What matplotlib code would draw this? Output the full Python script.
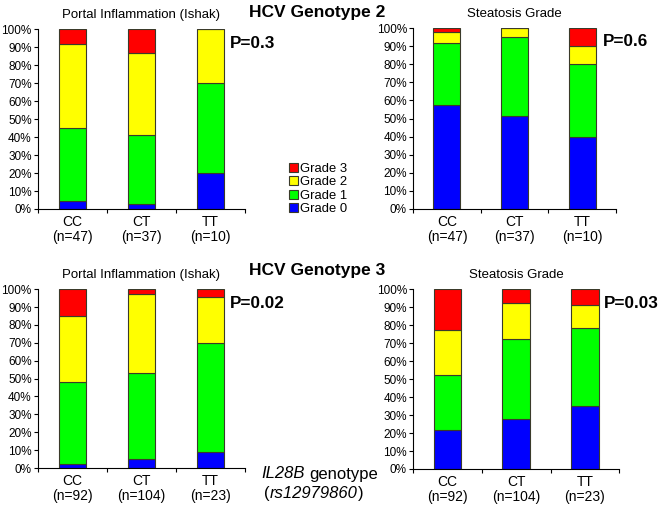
import numpy as np
import matplotlib
matplotlib.use('Agg')
import matplotlib.pyplot as plt
from matplotlib.patches import Patch

plt.rcParams['font.family'] = ['Liberation Sans', 'DejaVu Sans']

# Genotypes and sample sizes
genotypes = ['CC', 'CT', 'TT']
n_g2 = [47, 37, 10]
n_g3 = [92, 104, 23]

grades = ['Grade 0', 'Grade 1', 'Grade 2', 'Grade 3']
grade_colors = ['#0000ff', '#00ff00', '#ffff00', '#ff0000']

# Percentages per grade (rows: Grade 0..3, cols: CC, CT, TT)
portal_g2 = [[4.5, 3.0, 20.0],
             [40.5, 38.0, 50.0],
             [46.5, 45.5, 30.0],
             [8.5, 13.5, 0.0]]
steatosis_g2 = [[57.5, 51.5, 40.0],
                [34.0, 43.5, 40.0],
                [6.3, 5.0, 10.0],
                [2.2, 0.0, 10.0]]
portal_g3 = [[2.3, 4.8, 8.8],
             [45.6, 48.2, 60.9],
             [37.0, 44.2, 26.1],
             [15.1, 2.8, 4.2]]
steatosis_g3 = [[21.8, 28.0, 35.0],
                [30.4, 44.2, 43.3],
                [24.9, 20.2, 12.9],
                [22.9, 7.6, 8.8]]

p_values = ['P=0.3', 'P=0.6', 'P=0.02', 'P=0.03']

W, H = 661, 511
fig = plt.figure(figsize=(W / 100, H / 100), dpi=100)

panels = [
    ([0.0575, 0.591, 0.313, 0.352], portal_g2, n_g2, 'Portal Inflammation (Ishak)'),
    ([0.625, 0.591, 0.307, 0.354], steatosis_g2, n_g2, 'Steatosis Grade'),
    ([0.0575, 0.0841, 0.313, 0.350], portal_g3, n_g3, 'Portal Inflammation (Ishak)'),
    ([0.625, 0.0822, 0.312, 0.352], steatosis_g3, n_g3, 'Steatosis Grade'),
]

x = np.arange(len(genotypes))
for rect, data, ns, title in panels:
    ax = fig.add_axes(rect)
    bottom = np.zeros(len(genotypes))
    for vals, col in zip(data, grade_colors):
        vals = np.array(vals)
        ax.bar(x, vals, width=0.4, bottom=bottom, color=col,
               edgecolor='#3a3a2a', linewidth=0.8)
        bottom += vals
    ax.set_xlim(-0.5, 2.5)
    ax.set_ylim(0, 100)
    ax.set_yticks(np.arange(0, 101, 10))
    ax.set_yticklabels([f'{v}%' for v in range(0, 101, 10)], fontsize=8.5)
    ax.set_xticks(x)
    ax.set_xticklabels([f'{g}\n(n={n})' for g, n in zip(genotypes, ns)],
                       fontsize=10, linespacing=1.15)
    ax.set_xticks([-0.5, 0.5, 1.5, 2.5], minor=True)
    ax.tick_params(axis='x', which='major', length=0, pad=4)
    ax.tick_params(axis='x', which='minor', length=3, width=0.8)
    ax.tick_params(axis='y', length=3, width=0.8, pad=1.5)
    for s in ['top', 'right']:
        ax.spines[s].set_visible(False)
    for s in ['left', 'bottom']:
        ax.spines[s].set_linewidth(0.8)
    ax.set_title(title, fontsize=9.5, pad=8)

# Genotype headers
fig.text(317 / W, 1 - 13 / H, 'HCV Genotype 2', ha='center', va='center',
         fontsize=12.5, fontweight='bold')
fig.text(317 / W, 1 - 270 / H, 'HCV Genotype 3', ha='center', va='center',
         fontsize=12.5, fontweight='bold')

# P values
p_pos = [(230, 43), (603, 42), (230, 303), (604, 303)]
for (px, py), p in zip(p_pos, p_values):
    fig.text(px / W, 1 - py / H, p, ha='left', va='center',
             fontsize=12.3, fontweight='bold')

# Legend
handles = [Patch(facecolor=c, edgecolor='#3a3a2a', linewidth=0.8, label=g)
           for g, c in zip(grades[::-1], grade_colors[::-1])]
fig.legend(handles=handles, loc='center', bbox_to_anchor=(318 / W, 1 - 189 / H),
           frameon=False, fontsize=9.4, handlelength=0.7, handleheight=0.7,
           handletextpad=0.2, labelspacing=0.1, borderpad=0)

# x axis caption, italic parts as separate text pieces
fig.text(305 / W, 1 - 474 / H, 'IL28B', ha='right', va='center',
         fontsize=12, fontstyle='italic')
fig.text(309 / W, 1 - 474 / H, 'genotype', ha='left', va='center', fontsize=12)
mid = fig.text(314 / W, 1 - 493 / H, 'rs12979860', ha='center', va='center',
               fontsize=12, fontstyle='italic')
renderer = fig.canvas.get_renderer()
bb = mid.get_window_extent(renderer)
fig.text((bb.x0 - 0.5) / W, 1 - 493 / H, '(', ha='right', va='center', fontsize=12)
fig.text((bb.x1 + 0.5) / W, 1 - 493 / H, ')', ha='left', va='center', fontsize=12)

fig.savefig('out.png', dpi=100)
